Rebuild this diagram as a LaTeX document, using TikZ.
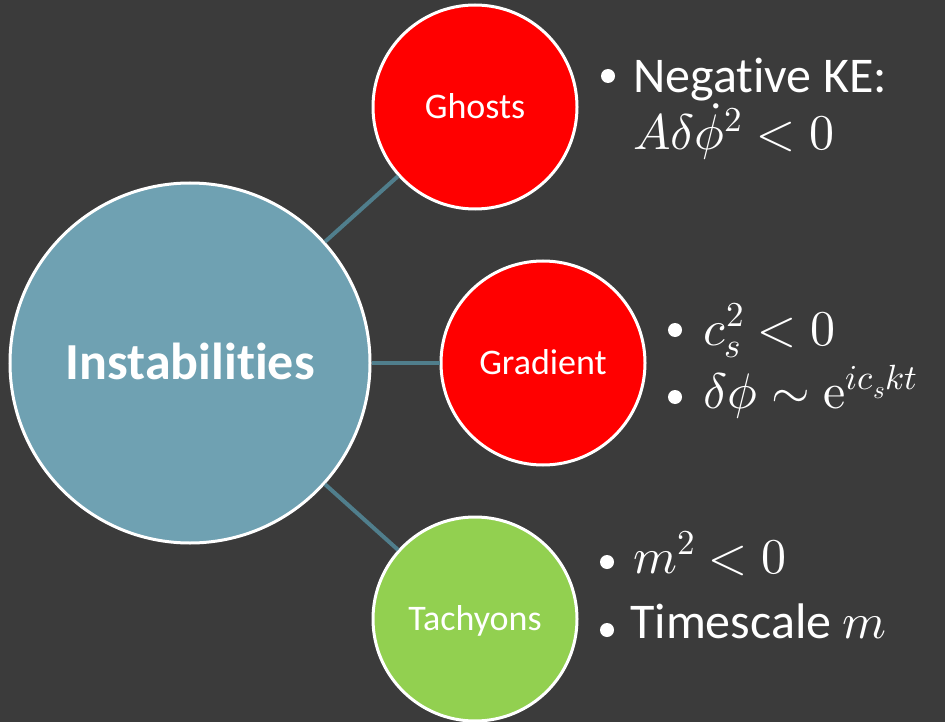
\documentclass[tikz,border=0pt]{standalone}
\usepackage{fontspec}
\usepackage{unicode-math}
\setmainfont{Carlito}[RawFeature={-liga;-clig;-calt}]
\setmathfont{Latin Modern Math}
\usetikzlibrary{positioning}
\definecolor{cBack}{RGB}{59,59,59}
\definecolor{cTeal}{RGB}{111,161,178}
\definecolor{cSpoke}{RGB}{80,126,140}
\definecolor{cRed}{RGB}{255,0,0}
\definecolor{cGreen}{RGB}{146,208,80}
\tikzset{
	hub/.style      ={circle, draw=white, line width=3pt, fill=cTeal, text=white, minimum size=360pt, inner sep=0pt, font=\fontsize{52}{62}\selectfont\bfseries, text height=33pt, text depth=0pt},
	leaf/.style     ={circle, draw=white, line width=3pt, text=white, minimum size=204pt, inner sep=0pt, font=\fontsize{36}{43}\selectfont, text height=23pt, text depth=0pt},
	spoke/.style    ={draw=cSpoke, line width=4pt},
	% bullet list styles
	bulletdot/.style={circle, fill=white, minimum size=14pt, inner sep=0pt},
	note/.style     ={anchor=base west, inner sep=0pt, text=white, font=\fontsize{50}{60}\selectfont},
}
\begin{document}
\begin{tikzpicture}[x=1pt, y=-1pt]
	\fill[cBack] (0,0) rectangle (945,722);
	\useasboundingbox (0,0) rectangle (945,722);
	\node[hub] (inst) at (190,363) {Instabilities};
	\node[leaf, fill=cRed] (ghost) at (475,107) {Ghosts};
	\node[leaf, fill=cRed] (grad) at (543,363) {Gradient};
	\node[leaf, fill=cGreen] (tach) at (475,619) {Tachyons};
	\draw[spoke] (inst) -- (ghost);
	\draw[spoke] (inst) -- (grad);
	\draw[spoke] (inst) -- (tach);
	% ghosts
	\node[bulletdot] (gb1) at (608,76) {};
	\node[note] (gt1) at (633,93) {Negative KE:};
	\node[note] (gt2) at (633,150) {$A\delta\dot{\phi}^2 < 0$};
	% gradient
	\node[bulletdot] (rb1) at (675,330) {};
	\node[bulletdot] (rb2) at (675,397) {};
	\node[note] (rt1) at (703,345) {$c_s^2 < 0$};
	\node[note] (rt2) at (703,408) {$\delta\phi \sim \symup{e}^{ic_skt}$};
	% tachyons
	\node[bulletdot] (tb1) at (607,562) {};
	\node[bulletdot] (tb2) at (607,630) {};
	\node[note] (tt1) at (633,573) {$m^2 < 0$};
	\node[note] (tt2) at (630,638) {Timescale $m$};
\end{tikzpicture}
\end{document}
